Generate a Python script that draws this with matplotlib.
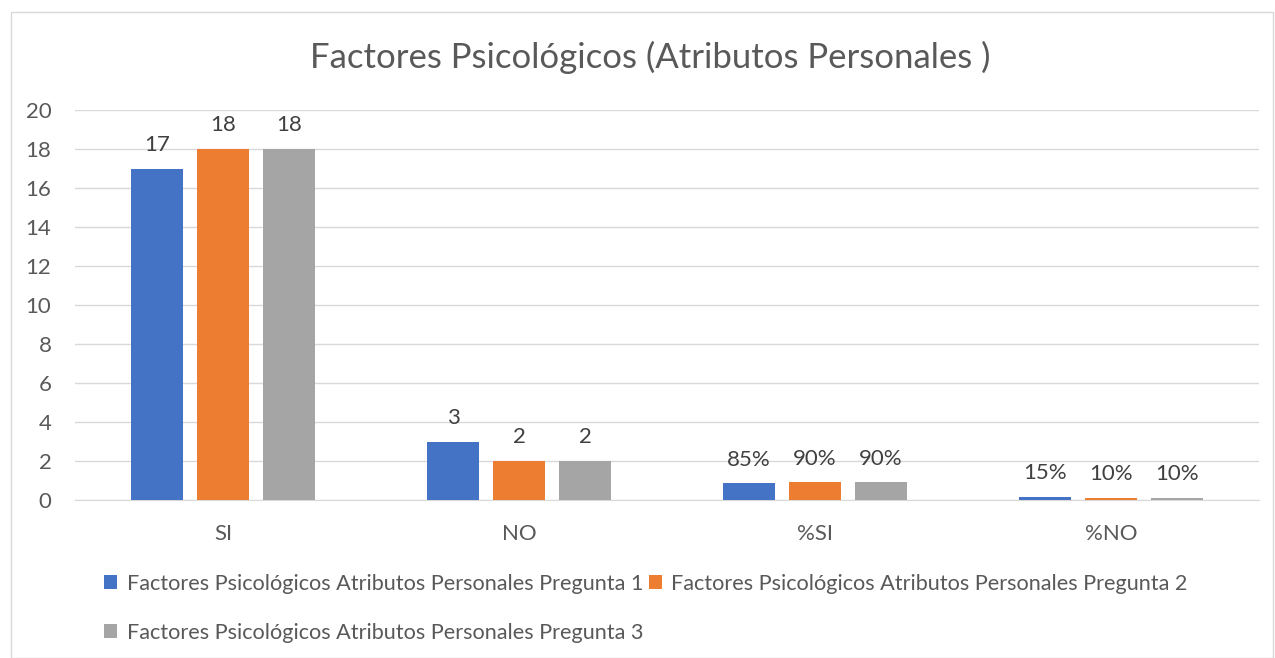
import numpy as np
import matplotlib.pyplot as plt
from matplotlib.patches import Rectangle

plt.rcParams["font.family"] = ["Lato", "DejaVu Sans"]

categories = ["SI", "NO", "%SI", "%NO"]
series_names = [
    "Factores Psicológicos Atributos Personales Pregunta 1",
    "Factores Psicológicos Atributos Personales Pregunta 2",
    "Factores Psicológicos Atributos Personales Pregunta 3",
]
pregunta1 = [17, 3, 0.85, 0.15]
pregunta2 = [18, 2, 0.90, 0.10]
pregunta3 = [18, 2, 0.90, 0.10]
labels1 = ["17", "3", "85%", "15%"]
labels2 = ["18", "2", "90%", "10%"]
labels3 = ["18", "2", "90%", "10%"]

colors = ["#4472C4", "#ED7D31", "#A5A5A5"]
text_color = "#595959"

fig = plt.figure(figsize=(12.75, 6.58), dpi=100)
ax = fig.add_axes([75 / 1275, 158 / 658, 1184 / 1275, 390 / 658])

x = np.arange(len(categories))
width = 0.176
offset = 0.223
handles = []
for i, (vals, labs) in enumerate(zip([pregunta1, pregunta2, pregunta3], [labels1, labels2, labels3])):
    bars = ax.bar(x + (i - 1) * offset, vals, width, color=colors[i], label=series_names[i], zorder=3)
    handles.append(bars)
    for b, lab in zip(bars, labs):
        ax.text(b.get_x() + b.get_width() / 2, b.get_height() + 0.7, lab,
                ha="center", va="bottom", fontsize=16, color="#404040")

ax.set_xlim(-0.5, 3.5)
ax.set_ylim(0, 20)
ax.set_yticks(range(0, 21, 2))
ax.set_xticks(x)
ax.set_xticklabels(categories)
ax.grid(axis="y", color="#D9D9D9", linewidth=1, zorder=0)
for s in ["top", "right", "left"]:
    ax.spines[s].set_visible(False)
ax.spines["bottom"].set_color("#D9D9D9")
ax.tick_params(axis="both", length=0, labelsize=16, labelcolor=text_color)
ax.tick_params(axis="y", pad=17)
ax.tick_params(axis="x", pad=17)

fig.text(650 / 1275, 1 - 57 / 658, "Factores Psicológicos (Atributos Personales )",
         ha="center", va="center", fontsize=25, color=text_color)

leg = fig.legend([handles[0], handles[2], handles[1]],
                 [series_names[0], series_names[2], series_names[1]],
                 ncol=2, loc="upper left", bbox_to_anchor=(104 / 1275, 1 - 574 / 658),
                 frameon=False, fontsize=15.6, handlelength=0.6, handleheight=0.6,
                 handletextpad=0.45, columnspacing=0.25, labelspacing=1.32,
                 borderpad=0, borderaxespad=0)
for t in leg.get_texts():
    t.set_color(text_color)

fig.patches.append(Rectangle((11 / 1275, 0), 1262 / 1275, 1 - 12 / 658, transform=fig.transFigure,
                             fill=False, edgecolor="#D9D9D9", linewidth=1))

fig.savefig("out.png", dpi=100, facecolor="white")
